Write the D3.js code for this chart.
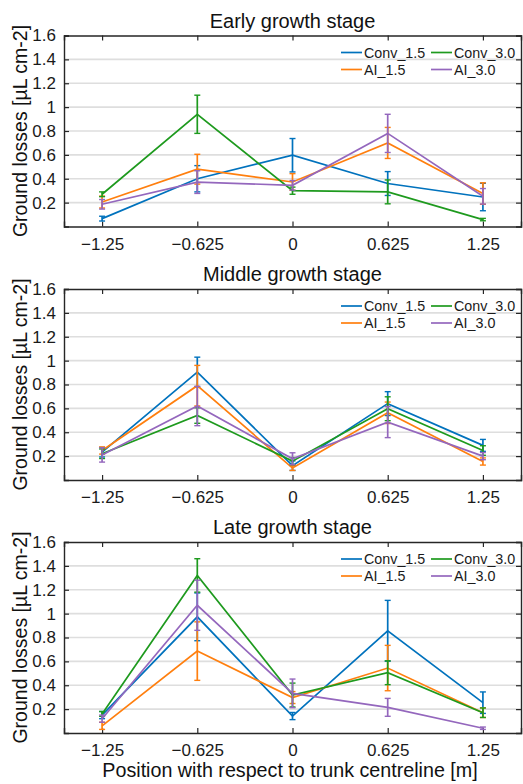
<!DOCTYPE html>
<html>
<head>
<meta charset="utf-8">
<script src="https://cdn.jsdelivr.net/npm/d3@7"></script>
<style>
	body { margin: 0; background: #fff; }
	svg { display: block; font-family: "Liberation Sans", Arial, sans-serif; }
</style>
</head>
<body>
<script>
// data
const positions = [-1.25, -0.625, 0, 0.625, 1.25];
const seriesNames = ["Conv_1.5", "AI_1.5", "Conv_3.0", "AI_3.0"];
const stageTitles = ["Early growth stage", "Middle growth stage", "Late growth stage"];
const yTicks = [0.2, 0.4, 0.6, 0.8, 1, 1.2, 1.4, 1.6];

const earlyConv15 = [0.066, 0.40, 0.597, 0.36, 0.247];
const earlyConv15Err = [0.02, 0.11, 0.14, 0.10, 0.115];
const earlyConv30 = [0.27, 0.94, 0.30, 0.29, 0.058];
const earlyConv30Err = [0.02, 0.16, 0.03, 0.10, 0.01];
const earlyAI15 = [0.205, 0.48, 0.373, 0.70, 0.276];
const earlyAI15Err = [0.05, 0.125, 0.07, 0.13, 0.09];
const earlyAI30 = [0.186, 0.372, 0.345, 0.78, 0.253];
const earlyAI30Err = [0.04, 0.095, 0.04, 0.16, 0.065];

const middleConv15 = [0.233, 0.904, 0.12, 0.64, 0.29];
const middleConv15Err = [0.04, 0.125, 0.04, 0.10, 0.05];
const middleConv30 = [0.22, 0.54, 0.158, 0.597, 0.247];
const middleConv30Err = [0.04, 0.065, 0.03, 0.10, 0.04];
const middleAI15 = [0.247, 0.79, 0.10, 0.563, 0.155];
const middleAI15Err = [0.03, 0.17, 0.02, 0.09, 0.03];
const middleAI30 = [0.21, 0.62, 0.178, 0.485, 0.20];
const middleAI30Err = [0.06, 0.165, 0.05, 0.13, 0.03];

const lateConv15 = [0.15, 0.973, 0.142, 0.856, 0.254];
const lateConv15Err = [0.03, 0.20, 0.03, 0.255, 0.09];
const lateConv30 = [0.16, 1.32, 0.318, 0.505, 0.17];
const lateConv30Err = [0.02, 0.14, 0.10, 0.10, 0.04];
const lateAI15 = [0.06, 0.686, 0.297, 0.544, 0.17];
const lateAI15Err = [0.03, 0.245, 0.05, 0.19, 0.04];
const lateAI30 = [0.12, 1.07, 0.332, 0.215, 0.04];
const lateAI30Err = [0.03, 0.21, 0.12, 0.075, 0.01];

const colors = {"Conv_1.5": "#0072BD", "AI_1.5": "#FF7F0E", "Conv_3.0": "#1E9A1E", "AI_3.0": "#9467BD"};

const stages = [
	{"Conv_1.5": [earlyConv15, earlyConv15Err], "AI_1.5": [earlyAI15, earlyAI15Err], "Conv_3.0": [earlyConv30, earlyConv30Err], "AI_3.0": [earlyAI30, earlyAI30Err]},
	{"Conv_1.5": [middleConv15, middleConv15Err], "AI_1.5": [middleAI15, middleAI15Err], "Conv_3.0": [middleConv30, middleConv30Err], "AI_3.0": [middleAI30, middleAI30Err]},
	{"Conv_1.5": [lateConv15, lateConv15Err], "AI_1.5": [lateAI15, lateAI15Err], "Conv_3.0": [lateConv30, lateConv30Err], "AI_3.0": [lateAI30, lateAI30Err]}
];

// layout
const w = 523, h = 784,
	  left = 64, right = 521,
	  panelTops = [35.5, 289, 542],
	  panelH = 191,
	  axisColor = "#262626";

const svg = d3.select("body").append("svg")
	.attr("width", w)
	.attr("height", h);

const xScale = d3.scaleLinear().domain([-1.5, 1.5]).range([left, right]);

stages.forEach((stage, si) => {
	const top = panelTops[si], bottom = top + panelH;
	const yScale = d3.scaleLinear().domain([0, 1.6]).range([bottom, top]);
	const g = svg.append("g");

	// grid
	g.selectAll("line.grid")
	 .data(yTicks.filter(t => t < 1.6))
	 .enter()
	 .append("line")
	 .attr("class", "grid")
	 .attr("x1", left).attr("x2", right)
	 .attr("y1", d => yScale(d)).attr("y2", d => yScale(d))
	 .attr("stroke", "#dedede")
	 .attr("stroke-width", 1.6);

	// axes with inward ticks
	const yAxisL = d3.axisLeft(yScale).tickValues(yTicks).tickSize(-5).tickPadding(8).tickFormat(d3.format("~g"));
	const yAxisR = d3.axisRight(yScale).tickValues(yTicks).tickSize(-5).tickFormat("");
	const xAxisB = d3.axisBottom(xScale).tickValues(positions).tickSize(-5).tickPadding(11).tickFormat(d => d === 0 ? "0" : d3.format("~g")(d));
	const xAxisT = d3.axisTop(xScale).tickValues(positions).tickSize(-5).tickFormat("");

	const axes = [
		[yAxisL, "translate(" + left + ",0)"],
		[yAxisR, "translate(" + right + ",0)"],
		[xAxisB, "translate(0," + bottom + ")"],
		[xAxisT, "translate(0," + top + ")"]
	];
	axes.forEach(a => {
		const ag = g.append("g").attr("transform", a[1]).call(a[0]);
		ag.select(".domain").attr("stroke", axisColor).attr("stroke-width", 1.4);
		ag.selectAll(".tick line").attr("stroke", axisColor).attr("stroke-width", 1.2);
		ag.selectAll(".tick text").attr("fill", "#1a1a1a").style("font-size", "17px").style("font-family", "Liberation Sans, Arial, sans-serif");
	});

	// series lines and error bars
	seriesNames.forEach(name => {
		const vals = stage[name][0], errs = stage[name][1], c = colors[name];
		const pts = positions.map((p, i) => [p, vals[i], errs[i]]);

		g.append("path")
		 .datum(pts)
		 .attr("fill", "none")
		 .attr("stroke", c)
		 .attr("stroke-width", 1.7)
		 .attr("d", d3.line().x(d => xScale(d[0])).y(d => yScale(d[1])));

		const eb = g.append("g");
		eb.selectAll("line.bar")
		  .data(pts).enter().append("line")
		  .attr("x1", d => xScale(d[0])).attr("x2", d => xScale(d[0]))
		  .attr("y1", d => yScale(d[1] - d[2])).attr("y2", d => yScale(d[1] + d[2]))
		  .attr("stroke", c).attr("stroke-width", 1.7);
		[-1, 1].forEach(sgn => {
			eb.selectAll("line.cap" + sgn)
			  .data(pts).enter().append("line")
			  .attr("x1", d => xScale(d[0]) - 3).attr("x2", d => xScale(d[0]) + 3)
			  .attr("y1", d => yScale(d[1] + sgn * d[2])).attr("y2", d => yScale(d[1] + sgn * d[2]))
			  .attr("stroke", c).attr("stroke-width", 1.4);
		});
	});

	// legend (two columns)
	const legendOrder = [["Conv_1.5", 0, 0], ["Conv_3.0", 1, 0], ["AI_1.5", 0, 1], ["AI_3.0", 1, 1]];
	legendOrder.forEach(l => {
		const lx = 341 + l[1] * 90, ly = top + 17 + l[2] * 17;
		g.append("line")
		 .attr("x1", lx).attr("x2", lx + 21)
		 .attr("y1", ly).attr("y2", ly)
		 .attr("stroke", colors[l[0]]).attr("stroke-width", 1.7);
		g.append("text")
		 .attr("x", lx + 23).attr("y", ly + 5)
		 .attr("fill", "#1a1a1a")
		 .style("font-size", "14.3px")
		 .text(l[0]);
	});

	// title
	g.append("text")
	 .attr("x", (left + right) / 2)
	 .attr("y", top - 8)
	 .attr("text-anchor", "middle")
	 .attr("fill", "#111")
	 .style("font-size", "20px")
	 .text(stageTitles[si]);

	// y label
	g.append("text")
	 .attr("transform", "translate(27," + (top + panelH / 2) + ") rotate(-90)")
	 .attr("text-anchor", "middle")
	 .attr("fill", "#111")
	 .style("font-size", "19.5px")
	 .text("Ground losses [µL cm-2]");
});

// x label
svg.append("text")
   .attr("x", 290)
   .attr("y", 777)
   .attr("text-anchor", "middle")
   .attr("fill", "#111")
   .style("font-size", "19.7px")
   .text("Position with respect to trunk centreline [m]");
</script>
</body>
</html>
